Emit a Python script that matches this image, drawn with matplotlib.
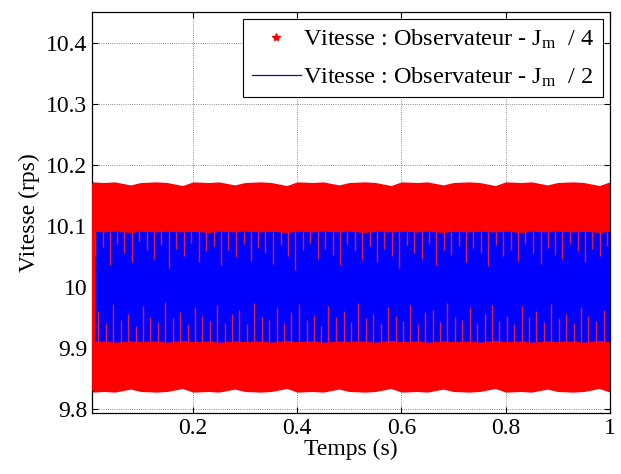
#!/usr/bin/env python3
import matplotlib
matplotlib.use("Agg")
import matplotlib.pyplot as plt
from matplotlib.lines import Line2D
from matplotlib.ticker import FormatStrFormatter

plt.rcParams['font.family'] = ['Liberation Serif', 'DejaVu Serif']
plt.rcParams['mathtext.fontset'] = 'custom'
plt.rcParams['mathtext.rm'] = 'Liberation Serif'
plt.rcParams['mathtext.it'] = 'Liberation Serif'

# envelopes (rps)
t_env = [0.006, 0.03, 0.05, 0.08, 0.10, 0.13, 0.15, 0.18, 0.20, 0.23, 0.25, 0.28, 0.30,
         0.33, 0.35, 0.38, 0.40, 0.43, 0.45, 0.48, 0.50, 0.53, 0.55, 0.58, 0.60, 0.63,
         0.65, 0.68, 0.70, 0.73, 0.75, 0.78, 0.80, 0.83, 0.85, 0.88, 0.90, 0.93, 0.95,
         0.98, 1.0]
red_hi = [10.172, 10.171, 10.172, 10.167, 10.171, 10.172, 10.171, 10.166, 10.172, 10.171, 10.172, 10.167, 10.171,
          10.172, 10.171, 10.166, 10.172, 10.171, 10.172, 10.167, 10.171, 10.172, 10.171, 10.166, 10.172, 10.171,
          10.172, 10.167, 10.171, 10.172, 10.171, 10.166, 10.172, 10.171, 10.172, 10.167, 10.171, 10.172, 10.171,
          10.166, 10.172]
red_lo = [9.827, 9.828, 9.827, 9.832, 9.828, 9.827, 9.828, 9.833, 9.827, 9.828, 9.827, 9.832, 9.828,
          9.827, 9.828, 9.833, 9.827, 9.828, 9.827, 9.832, 9.828, 9.827, 9.828, 9.833, 9.827, 9.828,
          9.827, 9.832, 9.828, 9.827, 9.828, 9.833, 9.827, 9.828, 9.827, 9.832, 9.828, 9.827, 9.828,
          9.833, 9.827]
blue_hi = [10.091, 10.090, 10.091, 10.089, 10.091, 10.090, 10.091, 10.090, 10.091, 10.089, 10.091, 10.090, 10.091,
           10.090, 10.091, 10.089, 10.091, 10.090, 10.091, 10.090, 10.091, 10.089, 10.091, 10.090, 10.091, 10.090,
           10.091, 10.089, 10.091, 10.090, 10.091, 10.090, 10.091, 10.089, 10.091, 10.090, 10.091, 10.090, 10.091,
           10.089, 10.091]
blue_lo = [9.910, 9.911, 9.909, 9.911, 9.910, 9.911, 9.909, 9.912, 9.910, 9.911, 9.909, 9.911, 9.910,
           9.911, 9.909, 9.912, 9.910, 9.911, 9.909, 9.911, 9.910, 9.911, 9.909, 9.912, 9.910, 9.911,
           9.909, 9.911, 9.910, 9.911, 9.909, 9.912, 9.910, 9.911, 9.909, 9.911, 9.910, 9.911, 9.909,
           9.912, 9.910]

# red streaks showing through the blue band
spike_t_top = [0.012, 0.027, 0.041, 0.055, 0.068, 0.083, 0.097, 0.112, 0.126, 0.139,
               0.154, 0.168, 0.183, 0.197, 0.211, 0.225, 0.240, 0.254, 0.268, 0.282,
               0.297, 0.311, 0.325, 0.339, 0.354, 0.368, 0.382, 0.396, 0.411, 0.425,
               0.439, 0.453, 0.468, 0.482, 0.496, 0.510, 0.525, 0.539, 0.553, 0.567,
               0.582, 0.596, 0.610, 0.624, 0.639, 0.653, 0.667, 0.681, 0.696, 0.710,
               0.724, 0.738, 0.753, 0.767, 0.781, 0.795, 0.810, 0.824, 0.838, 0.852,
               0.867, 0.881, 0.895, 0.909, 0.924, 0.938, 0.952, 0.966, 0.981, 0.994]
spike_y_top = [10.050, 10.065, 10.035, 10.070, 10.055, 10.040, 10.075, 10.060, 10.045, 10.068,
               10.030, 10.062, 10.050, 10.072, 10.040, 10.058, 10.066, 10.035, 10.060, 10.048,
               10.070, 10.042, 10.064, 10.055, 10.038, 10.068, 10.050, 10.028, 10.060, 10.072,
               10.045, 10.062, 10.052, 10.036, 10.070, 10.058, 10.044, 10.066, 10.040, 10.062,
               10.050, 10.030, 10.068, 10.055, 10.046, 10.070, 10.036, 10.060, 10.052, 10.066,
               10.040, 10.064, 10.055, 10.034, 10.068, 10.050, 10.060, 10.042, 10.070, 10.056,
               10.038, 10.064, 10.052, 10.045, 10.070, 10.058, 10.040, 10.062, 10.050, 10.066]
spike_t_bot = [0.018, 0.033, 0.047, 0.061, 0.075, 0.090, 0.104, 0.118, 0.132, 0.147,
               0.161, 0.175, 0.190, 0.204, 0.218, 0.232, 0.247, 0.261, 0.275, 0.289,
               0.304, 0.318, 0.332, 0.346, 0.361, 0.375, 0.389, 0.403, 0.418, 0.432,
               0.446, 0.460, 0.475, 0.489, 0.503, 0.517, 0.532, 0.546, 0.560, 0.574,
               0.589, 0.603, 0.617, 0.631, 0.646, 0.660, 0.674, 0.688, 0.703, 0.717,
               0.731, 0.745, 0.760, 0.774, 0.788, 0.802, 0.817, 0.831, 0.845, 0.859,
               0.874, 0.888, 0.902, 0.916, 0.931, 0.945, 0.959, 0.973, 0.988]
spike_y_bot = [9.960, 9.940, 9.972, 9.945, 9.955, 9.935, 9.968, 9.950, 9.942, 9.975,
               9.948, 9.958, 9.938, 9.966, 9.952, 9.944, 9.970, 9.940, 9.956, 9.962,
               9.938, 9.974, 9.950, 9.945, 9.966, 9.940, 9.958, 9.972, 9.946, 9.954,
               9.936, 9.968, 9.950, 9.960, 9.942, 9.974, 9.948, 9.956, 9.940, 9.966,
               9.952, 9.944, 9.970, 9.938, 9.958, 9.962, 9.942, 9.974, 9.950, 9.946,
               9.966, 9.940, 9.956, 9.970, 9.944, 9.952, 9.938, 9.968, 9.950, 9.960,
               9.942, 9.972, 9.948, 9.956, 9.940, 9.966, 9.952, 9.944, 9.962]

x_ticks = [0.2, 0.4, 0.6, 0.8, 1.0]
y_ticks = [9.8, 9.9, 10.0, 10.1, 10.2, 10.3, 10.4]

red = '#ff0000'
blue = '#0000ff'

fig = plt.figure(figsize=(6.21, 4.74), dpi=100)
ax = fig.add_axes([0.148, 0.129, 0.834, 0.846])

ax.fill_between(t_env, red_lo, red_hi, color=red, lw=0, zorder=2)
ax.fill_between(t_env, blue_lo, blue_hi, color=blue, lw=0, zorder=3)
ax.vlines(spike_t_top, spike_y_top, 10.09, color='#d8204a', lw=1.0, zorder=4)
ax.vlines(spike_t_bot, 9.91, spike_y_bot, color='#d8204a', lw=1.0, zorder=4)
ax.vlines([0.0075], 9.83, 10.17, color=red, lw=2.5, zorder=4)

ax.set_xlim(0.006, 1.0)
ax.set_ylim(9.793, 10.451)
ax.set_xticks(x_ticks)
ax.set_yticks(y_ticks)
ax.xaxis.set_major_formatter(FormatStrFormatter('%g'))
ax.yaxis.set_major_formatter(FormatStrFormatter('%g'))
ax.tick_params(direction='in', top=True, right=True, labelsize=17, length=4, width=0.8)
ax.grid(True, color='black', linestyle=':', linewidth=0.6, alpha=0.6, zorder=1)
ax.set_axisbelow(True)
for s in ax.spines.values():
    s.set_linewidth(0.9)

ax.set_xlabel('Temps (s)', fontsize=17, labelpad=0)
ax.set_ylabel('Vitesse (rps)', fontsize=17, labelpad=4)

handles = [Line2D([], [], color=red, marker='*', linestyle='none', markersize=6),
           Line2D([], [], color='#1010a0', lw=0.9)]
labels = ['Vitesse : Observateur - J$_\\mathregular{m}$  / 4',
          'Vitesse : Observateur - J$_\\mathregular{m}$  / 2']
leg = ax.legend(handles, labels, loc='upper right', fontsize=17.5, frameon=True,
                fancybox=False, edgecolor='black', framealpha=1, borderaxespad=0.3,
                handlelength=2.0, handletextpad=0.1, borderpad=0.35, labelspacing=0.6)
leg.get_frame().set_linewidth(0.8)
leg.set_zorder(10)

fig.savefig('out.png', dpi=100)
